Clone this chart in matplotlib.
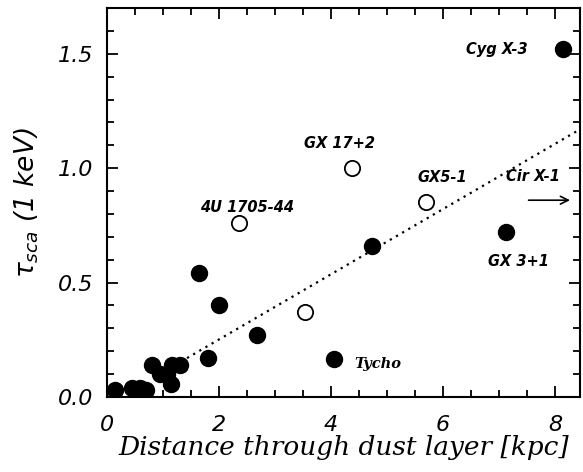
import numpy as np
import matplotlib.pyplot as plt
from matplotlib.ticker import MultipleLocator, FormatStrFormatter

# filled circles: distance through dust layer [kpc], tau_sca (1 keV)
filled_x = [8.14, 7.13, 4.73, 4.05, 1.64, 2.00, 2.68, 1.80, 0.80, 1.16,
            1.30, 0.95, 1.07, 1.14, 0.14, 0.45, 0.59, 0.70]
filled_y = [1.52, 0.72, 0.66, 0.166, 0.54, 0.40, 0.27, 0.17, 0.14, 0.14,
            0.14, 0.10, 0.10, 0.057, 0.03, 0.04, 0.04, 0.03]

# open circles
open_x = [4.38, 2.36, 5.70, 3.54]
open_y = [1.00, 0.76, 0.85, 0.37]

# dotted fit line endpoints
fit_x = [1.43, 8.45]
fit_y = [0.17, 1.17]

# source labels
src_names = ['Cyg X-3', 'GX 17+2', '4U 1705-44', 'GX5-1', 'Cir X-1', 'GX 3+1', 'Tycho']
src_x = [6.97, 4.16, 2.50, 5.98, 7.60, 7.34, 4.84]
src_y = [1.52, 1.11, 0.83, 0.96, 0.965, 0.59, 0.144]
src_font = ['DejaVu Sans'] * 6 + ['DejaVu Serif']

# Cir X-1 arrow
arrow_x = [7.48, 8.32]
arrow_y = 0.86

fig = plt.figure(figsize=(5.83, 4.72), dpi=100)
ax = fig.add_axes([0.1835, 0.159, 0.8115, 0.824])

ax.plot(fit_x, fit_y, color='black', linestyle=(0, (1, 2.2)), linewidth=1.6)
ax.plot(filled_x, filled_y, 'o', color='black', markersize=11.5)
ax.plot(open_x, open_y, 'o', markerfacecolor='white', markeredgecolor='black',
        markersize=11, markeredgewidth=1.3)

for name, x, y, fam in zip(src_names, src_x, src_y, src_font):
    ax.text(x, y, name, ha='center', va='center', fontsize=10.5,
            fontstyle='italic', fontweight='bold', family=fam)

ax.annotate('', xy=(arrow_x[1], arrow_y), xytext=(arrow_x[0], arrow_y),
            arrowprops=dict(arrowstyle='->', color='black', lw=1.2,
                            mutation_scale=14))

ax.set_xlim(0, 8.45)
ax.set_ylim(0, 1.70)
ax.xaxis.set_major_locator(MultipleLocator(2))
ax.xaxis.set_minor_locator(MultipleLocator(0.5))
ax.yaxis.set_major_locator(MultipleLocator(0.5))
ax.yaxis.set_minor_locator(MultipleLocator(0.1))
ax.xaxis.set_major_formatter(FormatStrFormatter('%d'))
ax.yaxis.set_major_formatter(FormatStrFormatter('%.1f'))
ax.tick_params(which='both', direction='in', top=True, right=True, width=1.3)
ax.tick_params(which='major', length=8, labelsize=16)
ax.tick_params(axis='x', which='major', pad=13)
ax.tick_params(axis='y', which='major', pad=10)
ax.tick_params(which='minor', length=5)
for lab in ax.get_xticklabels() + ax.get_yticklabels():
    lab.set_fontstyle('italic')
for sp in ax.spines.values():
    sp.set_linewidth(1.5)

ax.set_xlabel('Distance through dust layer [kpc]', fontsize=19,
              family='DejaVu Serif', fontstyle='italic', labelpad=0)
ax.set_ylabel(r'$\tau_{sca}$ (1 keV)', fontsize=19, fontstyle='italic', labelpad=12)

fig.savefig('out.png', dpi=100)
